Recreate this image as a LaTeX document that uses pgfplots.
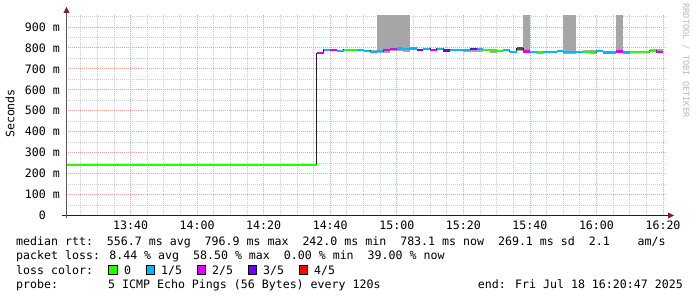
\documentclass[border=0pt]{standalone}
\usepackage{pgfplots}
\pgfplotsset{compat=1.18}
\usepackage{fontspec}
\newfontfamily\rrd{DejaVu Sans Mono}
\definecolor{lc0}{HTML}{26FF00}
\definecolor{lc1}{HTML}{00B8FF}
\definecolor{lc2}{HTML}{DD00FF}
\definecolor{lc3}{HTML}{6A00FF}
\definecolor{lc4}{HTML}{FF0000}
\definecolor{lcx}{HTML}{505050}
\definecolor{smoke}{HTML}{A6A6A6}
\definecolor{mgrid}{HTML}{EBA5A5}
\definecolor{ngrid}{HTML}{CDCDCD}
\definecolor{axc}{HTML}{202020}
\definecolor{arr}{HTML}{8B1A1A}
\definecolor{wm}{HTML}{BBBBBB}
\newcommand{\seg}[4]{\addplot[#1,line width=2.2bp] coordinates {(#2,#4) (#3,#4)};}
\newcommand{\smk}[4]{\addplot[fill=smoke,draw=none] coordinates {(#1,#3) (#2,#3) (#2,#4) (#1,#4)};}
\newcommand{\fs}{\rrd\fontsize{11.6bp}{13bp}\selectfont}
\begin{document}
\begin{tikzpicture}[x=1bp,y=1bp]
\path[use as bounding box] (-66.5,-81.5) rectangle (630.5,215.5);
\begin{axis}[
  at={(0,0)}, anchor=south west,
  scale only axis, width=599bp, height=200.5bp,
  xmin=20.75, xmax=200.75, ymin=0, ymax=957,
  enlargelimits=false,
  axis line style={draw=none},
  major tick length=0pt, minor tick length=0pt,
  xtick={40,60,...,200},
  xticklabels={13:40,14:00,14:20,14:40,15:00,15:20,15:40,16:00,16:20},
  minor xtick={25,30,35,45,50,55,65,70,75,85,90,95,105,110,115,125,130,135,145,150,155,165,170,175,185,190,195},
  ytick={0,100,...,900},
  yticklabels={{0\hphantom{mm}},100 m,200 m,300 m,400 m,500 m,600 m,700 m,800 m,900 m},
  minor ytick={50,150,...,950},
  grid=both,
  minor grid style={ngrid, line width=0.8bp, dash pattern=on 1bp off 1bp},
  major grid style={mgrid, line width=0.8bp, dash pattern=on 1bp off 1bp},
  xticklabel style={font=\fs, anchor=north, inner sep=0pt, yshift=-5bp},
  yticklabel style={font=\fs, anchor=east, inner sep=0pt, xshift=-6.5bp},
]
% smoke (min..max spread of pings)
\smk{114}{124}{785}{957}
\smk{158}{160}{785}{957}
\smk{170}{174}{773}{957}
\smk{186}{188}{783}{957}
\smk{112}{118}{777}{790}
\smk{122}{124}{780}{797}
\smk{140}{146}{782}{797}
\smk{148}{150}{777}{790}
\smk{154}{156}{779}{786}
\smk{156}{158}{787}{797}
\smk{176}{180}{775}{790}
\smk{196}{200}{782}{797}
% median rtt (thin dark step line)
\addplot[const plot, axc, line width=1bp] coordinates {
(20.75,242) (96,775) (98,790) (100,791) (102,786) (104,790) (106,790) (108,791)
(110,786) (112,782) (114,785) (116,791) (118,795) (120,797) (122,795) (124,797)
(126,791) (128,795) (130,791) (132,795) (134,788) (136,791) (138,791) (140,791)
(142,795) (144,793) (146,791) (148,790) (150,786) (152,790) (154,782) (156,797)
(158,783) (160,780) (162,778) (164,780) (166,780) (168,785) (170,780) (172,780)
(174,780) (176,780) (178,778) (180,785) (182,778) (184,778) (186,783) (188,778)
(190,780) (192,780) (194,780) (196,786) (198,782) (200,782)};
% median coloured by packet loss
\seg{lc0}{20.75}{96}{242}
\seg{lc2}{96}{98}{775}
\seg{lc1}{98}{100}{790}
\seg{lc2}{100}{102}{791}
\seg{lc1}{102}{104}{786}
\seg{lc0}{104}{106}{790}
\seg{lc0}{106}{108}{790}
\seg{lc1}{108}{110}{791}
\seg{lc1}{110}{112}{786}
\seg{lc1}{112}{114}{782}
\seg{lc1}{114}{116}{785}
\seg{lc2}{116}{118}{791}
\seg{lc2}{118}{120}{795}
\seg{lc1}{120}{122}{797}
\seg{lc1}{122}{124}{795}
\seg{lc1}{124}{126}{797}
\seg{lc3}{126}{128}{791}
\seg{lc1}{128}{130}{795}
\seg{lc2}{130}{132}{791}
\seg{lc1}{132}{134}{795}
\seg{lc3}{134}{136}{788}
\seg{lc1}{136}{138}{791}
\seg{lc1}{138}{140}{791}
\seg{lc1}{140}{142}{791}
\seg{lc3}{142}{144}{795}
\seg{lc1}{144}{146}{793}
\seg{lc0}{146}{148}{791}
\seg{lc0}{148}{150}{790}
\seg{lc0}{150}{152}{786}
\seg{lc1}{152}{154}{790}
\seg{lc1}{154}{156}{782}
\seg{lcx}{156}{158}{797}
\seg{lc2}{158}{160}{783}
\seg{lc1}{160}{162}{780}
\seg{lc0}{162}{164}{778}
\seg{lc1}{164}{166}{780}
\seg{lc1}{166}{168}{780}
\seg{lc1}{168}{170}{785}
\seg{lc1}{170}{172}{780}
\seg{lc1}{172}{174}{780}
\seg{lc1}{174}{176}{780}
\seg{lc0}{176}{178}{780}
\seg{lc0}{178}{180}{778}
\seg{lc1}{180}{182}{785}
\seg{lc1}{182}{184}{778}
\seg{lc1}{184}{186}{778}
\seg{lc2}{186}{188}{783}
\seg{lc1}{188}{190}{778}
\seg{lc0}{190}{192}{780}
\seg{lc0}{192}{194}{780}
\seg{lc0}{194}{196}{780}
\seg{lc0}{196}{198}{786}
\seg{lc2}{198}{200}{782}
\end{axis}
% axes with arrow heads
\draw[axc, line width=1bp] (-4.5,0) -- (601.5,0);
\fill[arr] (601.5,-3) -- (607.5,0) -- (601.5,3) -- cycle;
\draw[axc!75!white, line width=1bp] (0,-2.5) -- (0,202.5);
\fill[arr] (-3,202.5) -- (0,208.5) -- (3,202.5) -- cycle;
% labels
\node[rotate=90, font=\fs, inner sep=0pt] at (-56.5,102) {Seconds};
\node[rotate=-90, font=\rrd\fontsize{8.6bp}{9bp}\selectfont, text=wm, inner sep=0pt] at (619.5,155) {RRDTOOL / TOBI OETIKER};
% legend / statistics
\node[anchor=base west, font=\fs, inner sep=0pt] at (-50.5,-29.5) {median rtt:~~556.7 ms avg~~796.9 ms max~~242.0 ms min~~783.1 ms now~~269.1 ms sd~~2.1~~~~am/s};
\node[anchor=base west, font=\fs, inner sep=0pt] at (-50.5,-44) {packet loss: 8.44 \% avg~~58.50 \% max~~0.00 \% min~~39.00 \% now};
\node[anchor=base west, font=\fs, inner sep=0pt] at (-50.5,-58.5) {loss color:};
\filldraw[fill=lc0, draw=black, line width=0.8bp] (42,-58.5) rectangle ++(8.5,9);
\node[anchor=base west, font=\fs, inner sep=0pt] at (57.5,-58.5) {0};
\filldraw[fill=lc1, draw=black, line width=0.8bp] (79.5,-58.5) rectangle ++(8.5,9);
\node[anchor=base west, font=\fs, inner sep=0pt] at (94.5,-58.5) {1/5};
\filldraw[fill=lc2, draw=black, line width=0.8bp] (130.5,-58.5) rectangle ++(8.5,9);
\node[anchor=base west, font=\fs, inner sep=0pt] at (145.5,-58.5) {2/5};
\filldraw[fill=lc3, draw=black, line width=0.8bp] (181.5,-58.5) rectangle ++(8.5,9);
\node[anchor=base west, font=\fs, inner sep=0pt] at (196.5,-58.5) {3/5};
\filldraw[fill=lc4, draw=black, line width=0.8bp] (232.5,-58.5) rectangle ++(8.5,9);
\node[anchor=base west, font=\fs, inner sep=0pt] at (247.5,-58.5) {4/5};
\node[anchor=base west, font=\fs, inner sep=0pt] at (-50.5,-72.5) {probe:};
\node[anchor=base west, font=\fs, inner sep=0pt] at (41.5,-72.5) {5 ICMP Echo Pings (56 Bytes) every 120s};
\node[anchor=base east, font=\fs, inner sep=0pt] at (616.5,-72.5) {end: Fri Jul 18 16:20:47 2025};
\end{tikzpicture}
\end{document}
